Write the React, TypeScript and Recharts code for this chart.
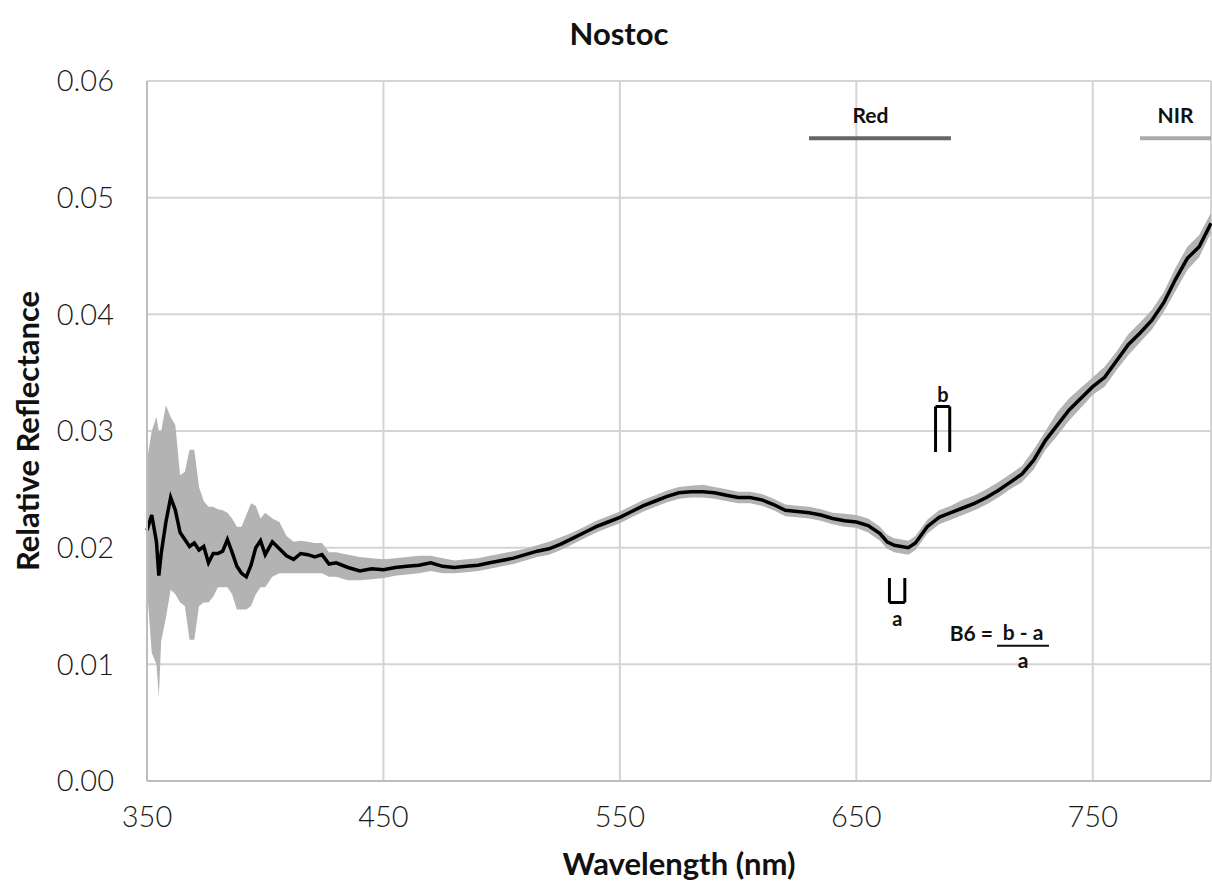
import React from "react";
import {
  ComposedChart,
  Area,
  Line,
  XAxis,
  YAxis,
  CartesianGrid,
  ReferenceLine,
  ReferenceDot,
} from "recharts";

const wavelengths = [
  350, 352, 354, 355, 356, 358, 360, 362, 364, 366, 368, 370, 372, 374, 376, 378, 380, 382, 384, 386,
  388, 390, 392, 394, 396, 398, 400, 403, 406, 409, 412, 415, 418, 421, 424, 427, 430, 435, 440, 445,
  450, 455, 460, 465, 470, 475, 480, 485, 490, 495, 500, 505, 510, 515, 520, 525, 530, 535, 540, 545,
  550, 555, 560, 565, 570, 575, 580, 585, 590, 595, 600, 605, 610, 615, 620, 625, 630, 635, 640, 645,
  650, 655, 660, 663, 666, 669, 672, 675, 680, 685, 690, 695, 700, 705, 710, 715, 720, 725, 730, 735,
  740, 745, 750, 755, 760, 765, 770, 775, 780, 785, 790, 795, 800,
];

const meanReflectance = [
  0.0215, 0.0228, 0.0205, 0.0176, 0.0195, 0.0222, 0.0243, 0.0232, 0.0213, 0.0207, 0.0201, 0.0204, 0.0198, 0.0201, 0.0187, 0.0195, 0.0195, 0.0197, 0.0207, 0.0196,
  0.0184, 0.0178, 0.0175, 0.0185, 0.02, 0.0206, 0.0194, 0.0205, 0.0199, 0.0193, 0.019, 0.0195, 0.0194, 0.0192, 0.0194, 0.0186, 0.0187, 0.0183, 0.018, 0.0182,
  0.0181, 0.0183, 0.0184, 0.0185, 0.0187, 0.0184, 0.0183, 0.0184, 0.0185, 0.0187, 0.0189, 0.0191, 0.0194, 0.0197, 0.0199, 0.0203, 0.0208, 0.0213, 0.0218, 0.0222,
  0.0226, 0.0231, 0.0236, 0.024, 0.0244, 0.0247, 0.0248, 0.0248, 0.0247, 0.0245, 0.0243, 0.0243, 0.0241, 0.0237, 0.0232, 0.0231, 0.023, 0.0228, 0.0225, 0.0223,
  0.0222, 0.0219, 0.0212, 0.0205, 0.0202, 0.0201, 0.02, 0.0204, 0.0218, 0.0226, 0.023, 0.0234, 0.0238, 0.0243, 0.0249, 0.0256, 0.0263, 0.0275, 0.0292, 0.0305,
  0.0318, 0.0328, 0.0338, 0.0346, 0.036, 0.0374, 0.0384, 0.0395, 0.041, 0.043, 0.0448, 0.0458, 0.0478,
];

const rangeLow = [
  0.0165, 0.011, 0.01, 0.0072, 0.012, 0.014, 0.0164, 0.016, 0.0153, 0.015, 0.0121, 0.0121, 0.015, 0.0153, 0.0153, 0.0158, 0.0166, 0.0166, 0.0166, 0.016,
  0.0147, 0.0147, 0.0147, 0.015, 0.016, 0.0166, 0.0166, 0.0175, 0.0178, 0.0178, 0.0178, 0.0178, 0.0178, 0.0178, 0.0178, 0.0175, 0.0175, 0.0172, 0.0172, 0.0173,
  0.0174, 0.0176, 0.0177, 0.0178, 0.018, 0.0178, 0.0178, 0.0179, 0.018, 0.0182, 0.0184, 0.0186, 0.0189, 0.0192, 0.0194, 0.0198, 0.0203, 0.0208, 0.0213, 0.0217,
  0.0221, 0.0226, 0.0231, 0.0235, 0.0239, 0.0242, 0.0243, 0.0243, 0.0242, 0.024, 0.0238, 0.0238, 0.0236, 0.0232, 0.0227, 0.0226, 0.0225, 0.0223, 0.022, 0.0218,
  0.0217, 0.0213, 0.0206, 0.0199, 0.0196, 0.0195, 0.0194, 0.0198, 0.0212, 0.022, 0.0224, 0.0228, 0.0232, 0.0237, 0.0243, 0.025, 0.0256, 0.0267, 0.0284, 0.0296,
  0.0309, 0.032, 0.0331, 0.0338, 0.0352, 0.0365, 0.0376, 0.0387, 0.0402, 0.042, 0.0438, 0.0449, 0.047,
];

const rangeHigh = [
  0.0275, 0.03, 0.0312, 0.03, 0.03, 0.0322, 0.0312, 0.0305, 0.0262, 0.0265, 0.0284, 0.0284, 0.0252, 0.024, 0.0235, 0.0235, 0.0233, 0.0232, 0.023, 0.0225,
  0.0218, 0.0218, 0.0228, 0.0238, 0.0236, 0.0225, 0.023, 0.0225, 0.0222, 0.021, 0.0205, 0.0206, 0.0205, 0.0204, 0.0204, 0.0196, 0.0196, 0.0194, 0.0192, 0.0191,
  0.019, 0.0191, 0.0192, 0.0193, 0.0193, 0.0191, 0.0189, 0.019, 0.0191, 0.0193, 0.0195, 0.0197, 0.0199, 0.0202, 0.0205, 0.0209, 0.0213, 0.0218, 0.0223, 0.0227,
  0.0231, 0.0236, 0.0241, 0.0245, 0.0249, 0.0252, 0.0253, 0.0254, 0.0252, 0.025, 0.0248, 0.0248, 0.0246, 0.0242, 0.0237, 0.0236, 0.0235, 0.0233, 0.023, 0.0229,
  0.0228, 0.0225, 0.0218, 0.0211, 0.0208, 0.0207, 0.0206, 0.021, 0.0224, 0.0232, 0.0236, 0.0241, 0.0245, 0.025, 0.0256, 0.0263, 0.027, 0.0284, 0.03, 0.0316,
  0.0328, 0.0337, 0.0346, 0.0355, 0.0368, 0.0383, 0.0393, 0.0404, 0.0419, 0.044, 0.0458, 0.0468, 0.0487,
];

const xTicks = [350, 450, 550, 650, 750];
const yTicks = [0, 0.01, 0.02, 0.03, 0.04, 0.05, 0.06];

// band markers and B6 index brackets (data coords)
const redBand = [630, 690];
const nirBand = [770, 800];
const bandLevel = 0.0551;
const bracketA = { x1: 664, x2: 670.5, top: 0.0174, bottom: 0.0153 };
const bracketB = { x1: 683.5, x2: 689.5, top: 0.0321, bottom: 0.0282 };

const data = wavelengths.map((nm, i) => ({
  nm,
  mean: meanReflectance[i],
  range: [rangeLow[i], rangeHigh[i]],
}));

const FONT = "Lato, 'Open Sans', sans-serif";

const textShape = (label: string, size = 20) => (p: any) => (
  <text
    x={p.cx}
    y={p.cy}
    textAnchor="middle"
    dominantBaseline="central"
    fontFamily={FONT}
    fontWeight={700}
    fontSize={size}
    fill="#111"
  >
    {label}
  </text>
);

const formulaShape = (p: any) => (
  <g fontFamily={FONT} fontWeight={700} fontSize={21} fill="#111">
    <text x={p.cx - 30} y={p.cy} textAnchor="end" dominantBaseline="central">
      B6 =
    </text>
    <text x={p.cx} y={p.cy - 1} textAnchor="middle" dominantBaseline="central">
      b - a
    </text>
    <line x1={p.cx - 26} x2={p.cx + 26} y1={p.cy + 13} y2={p.cy + 13} stroke="#111" strokeWidth={2} />
    <text x={p.cx} y={p.cy + 27} textAnchor="middle" dominantBaseline="central">
      a
    </text>
  </g>
);

const seg = (x1: number, y1: number, x2: number, y2: number, key: string, color = "#000", w = 3) => (
  <ReferenceLine
    key={key}
    segment={[
      { x: x1, y: y1 },
      { x: x2, y: y2 },
    ]}
    stroke={color}
    strokeWidth={w}
    ifOverflow="visible"
  />
);

const App = () => {
  return (
    <div style={{ position: "absolute", left: 0, top: 0, width: 1212, height: 887, background: "#fff" }}>
      <ComposedChart
        width={1212}
        height={887}
        data={data}
        margin={{ top: 81, right: 1, bottom: 0, left: 0 }}
      >
        <CartesianGrid stroke="#d4d4d4" strokeWidth={2} />
        <XAxis
          type="number"
          dataKey="nm"
          domain={[350, 800]}
          ticks={xTicks}
          height={106}
          axisLine={{ stroke: "#bdbdbd", strokeWidth: 2 }}
          tickLine={false}
          tickSize={0}
          tickMargin={25}
          tick={{ fontSize: 29, fill: "#1a1a1a", fontFamily: FONT, fontWeight: 300 }}
          label={{
            value: "Wavelength (nm)",
            position: "insideBottom",
            offset: 12,
            style: { fontSize: 31, fontWeight: 700, fill: "#111", fontFamily: FONT },
          }}
        />
        <YAxis
          type="number"
          domain={[0, 0.06]}
          ticks={yTicks}
          width={147}
          axisLine={{ stroke: "#bdbdbd", strokeWidth: 2 }}
          tickLine={false}
          tickSize={0}
          tickMargin={33}
          tickFormatter={(v: number) => v.toFixed(2)}
          tick={{ fontSize: 29, fill: "#1a1a1a", fontFamily: FONT, fontWeight: 300 }}
          label={{
            value: "Relative Reflectance",
            angle: -90,
            position: "insideLeft",
            offset: 28,
            style: { textAnchor: "middle", fontSize: 31, fontWeight: 700, fill: "#111", fontFamily: FONT },
          }}
        />
        <Area
          type="linear"
          dataKey="range"
          stroke="none"
          fill="#b3b3b3"
          fillOpacity={1}
          isAnimationActive={false}
          activeDot={false}
        />
        <Line
          type="linear"
          dataKey="mean"
          stroke="#000"
          strokeWidth={3.5}
          dot={false}
          activeDot={false}
          isAnimationActive={false}
        />
        {seg(redBand[0], bandLevel, redBand[1], bandLevel, "red", "#666", 4)}
        {seg(nirBand[0], bandLevel, nirBand[1], bandLevel, "nir", "#aaa", 4)}
        {seg(bracketB.x1, bracketB.bottom, bracketB.x1, bracketB.top, "b1")}
        {seg(bracketB.x1, bracketB.top, bracketB.x2, bracketB.top, "b2")}
        {seg(bracketB.x2, bracketB.top, bracketB.x2, bracketB.bottom, "b3")}
        {seg(bracketA.x1, bracketA.top, bracketA.x1, bracketA.bottom, "a1")}
        {seg(bracketA.x1, bracketA.bottom, bracketA.x2, bracketA.bottom, "a2")}
        {seg(bracketA.x2, bracketA.bottom, bracketA.x2, bracketA.top, "a3")}
        <ReferenceDot x={656} y={0.0571} r={0} shape={textShape("Red", 21)} ifOverflow="visible" />
        <ReferenceDot x={785} y={0.0571} r={0} shape={textShape("NIR", 21)} ifOverflow="visible" />
        <ReferenceDot x={686.6} y={0.0332} r={0} shape={textShape("b")} ifOverflow="visible" />
        <ReferenceDot x={667.3} y={0.014} r={0} shape={textShape("a")} ifOverflow="visible" />
        <ReferenceDot x={720.5} y={0.0127} r={0} shape={formulaShape} ifOverflow="visible" />
      </ComposedChart>
      <div
        style={{
          position: "absolute",
          left: 0,
          top: 14,
          width: 1238,
          textAlign: "center",
          fontFamily: FONT,
          fontWeight: 700,
          fontSize: 31,
          color: "#111",
        }}
      >
        Nostoc
      </div>
    </div>
  );
};

export default App;
